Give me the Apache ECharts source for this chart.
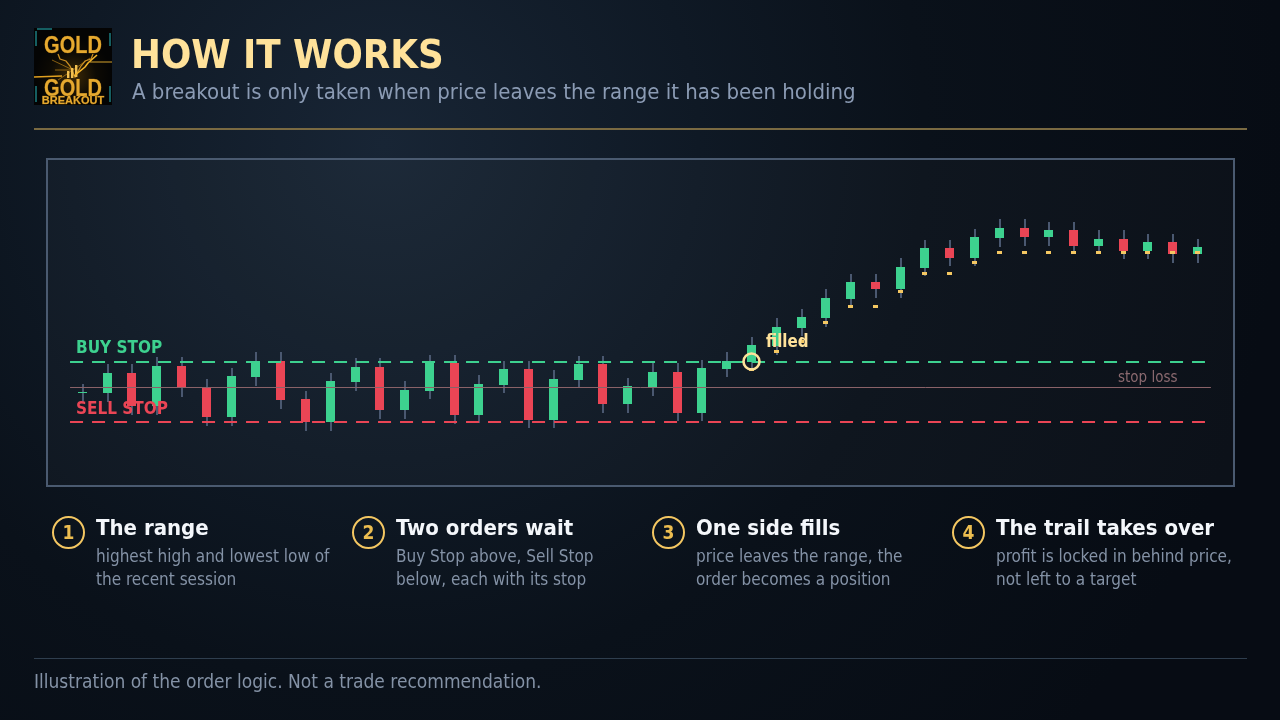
<!DOCTYPE html>
<html><head><meta charset="utf-8">
<style>html,body{margin:0;padding:0;background:#070d15}#c{width:1280px;height:720px}</style>
<script src="https://cdn.jsdelivr.net/npm/echarts@6/dist/echarts.min.js"></script>
</head><body><div id="c"></div>
<script>
// Session index is the x value; price is in chart units (higher = up)
const open  = [94,93,113,80,120,99,69,109,125,87,64,104,119,76,95,123,71,101,117,66,106,122,82,99,114,73,117,124,140,158,168,187,204,197,218,238,228,248,258,249,256,240,247,235,244,232];
const close = [94,113,80,120,99,69,110,125,86,64,105,119,76,96,124,71,102,117,66,107,122,82,100,114,73,118,125,141,159,169,188,204,197,219,238,228,249,258,249,256,240,247,235,244,232,239];
const low   = [84,84,71,71,89,60,60,100,77,55,55,95,67,67,87,62,63,93,58,58,98,73,73,90,65,65,109,116,131,150,159,178,188,188,210,220,220,239,240,240,233,234,227,227,223,223];
const high  = [102,122,122,129,129,107,118,134,134,95,113,128,128,105,131,131,111,125,125,116,130,130,108,123,123,126,134,149,168,177,197,212,212,228,246,246,257,267,267,264,264,256,256,252,252,247];
// Trailing stop level per session (null before the position exists)
const trail = [null,null,null,null,null,null,null,null,null,null,null,null,null,null,null,null,null,null,null,null,null,null,null,null,null,null,null,
  116.5,134.5,144.5,163.5,179.5,179.5,194.5,212.5,212.5,223.5,233.5,233.5,233.5,233.5,233.5,233.5,233.5,233.5,233.5];
const buyStop = 124, sellStop = 64, stopLoss = 98.5;
const rangeStart = -0.52, buyEnd = 45.28, lossEnd = 45.52;
const steps = [
  ['1','The range','highest high and lowest low of','the recent session'],
  ['2','Two orders wait','Buy Stop above, Sell Stop','below, each with its stop'],
  ['3','One side fills','price leaves the range, the','order becomes a position'],
  ['4','The trail takes over','profit is locked in behind price,','not left to a target']
];
const GREEN='#3dd18f', RED='#ea4555', WICK='#4a5870', GOLD='#f4c762', CREAM='#ffe29a', MUTED='#8492a6';
const FF='"DejaVu Sans Condensed","DejaVu Sans"';
const txt=(x,y,t,size,color,weight,align,z)=>({type:'text',x,y,z:z||20,silent:true,style:{text:t,fill:color,font:(weight||'normal')+' '+size+'px '+FF,textAlign:align||'left',textVerticalAlign:'middle'}});
const g=[];
// panel
g.push({type:'rect',z:1,shape:{x:47,y:159,width:1187,height:327},style:{fill:'rgba(255,255,255,0.025)',stroke:'#4a5a70',lineWidth:2}});
// header
g.push(txt(131,58,'HOW IT WORKS',39.7,CREAM,'bold'));
g.push(txt(132,93.5,'A breakout is only taken when price leaves the range it has been holding',22,'#8b9bb4'));
g.push({type:'rect',z:2,shape:{x:34,y:128,width:1213,height:2},style:{fill:'#7a6a42'}});
// logo
const logoText=(y,t,size,sy)=>({type:'text',x:73,y,z:6,scaleY:sy,silent:true,style:{text:t,fill:'#e6a92f',stroke:'#7a5410',lineWidth:0.5,font:'bold '+size+'px "Liberation Sans"',textAlign:'center',textVerticalAlign:'middle'}});
g.push({type:'rect',z:2,shape:{x:34,y:28,width:78,height:77},style:{fill:{type:'radial',x:0.5,y:0.62,r:0.5,colorStops:[{offset:0,color:'#3d2a06'},{offset:0.6,color:'#0d0a04'},{offset:1,color:'#040404'}]}}});
[[37,29,52,29],[36,31,36,46],[110,33,110,46],[36,86,36,102],[110,86,110,102]].forEach(a=>g.push({type:'line',z:3,shape:{x1:a[0],y1:a[1],x2:a[2],y2:a[3]},style:{stroke:'#1b7c80',lineWidth:1.5}}));
g.push({type:'line',z:3,shape:{x1:34,y1:77,x2:62,y2:76},style:{stroke:'#e0a020',lineWidth:1.5}});
g.push({type:'line',z:3,shape:{x1:90,y1:62,x2:112,y2:62},style:{stroke:'#b58a28',lineWidth:1.2}});
[[73,70,52,60],[73,70,58,80],[73,70,90,58],[73,70,55,70]].forEach(a=>g.push({type:'line',z:3,shape:{x1:a[0],y1:a[1],x2:a[2],y2:a[3]},style:{stroke:'rgba(230,160,30,0.55)',lineWidth:1}}));
g.push({type:'polyline',z:4,shape:{points:[[58,54],[60,59],[66,61],[70,66],[75,77],[81,66],[85,61],[91,59],[93,54]]},style:{stroke:'#c78c22',lineWidth:1.3,fill:null}});
[[67,71,7],[71,68,10],[75,65,12]].forEach(a=>g.push({type:'rect',z:5,shape:{x:a[0],y:a[1],width:2.4,height:a[2]},style:{fill:'#f2c050'}}));
g.push({type:'polyline',z:5,shape:{points:[[74,76],[85,67],[88,63],[97,55]]},style:{stroke:'#f4b428',lineWidth:1.6,fill:null}});
g.push(logoText(46,'GOLD',20,1.18));
g.push(logoText(89,'GOLD',20,1.18));
g.push(logoText(100.5,'BREAKOUT',11,1));
// chart labels
g.push(txt(76,349,'BUY STOP',17,GREEN,'bold','left',30));
g.push(txt(76,410,'SELL STOP',17,RED,'bold','left',30));
g.push(txt(766,343,'filled',16.8,CREAM,'bold','left',30));
g.push(txt(1118,378.5,'stop loss',15,'#8b6a70','normal','left',30));
g.push({type:'circle',z:30,shape:{cx:751.5,cy:361.5,r:8},style:{fill:null,stroke:CREAM,lineWidth:2.6}});
// steps
steps.forEach((s,i)=>{
  const dx=300*i;
  g.push({type:'circle',z:5,shape:{cx:68.5+dx,cy:532.5,r:15.5},style:{fill:null,stroke:GOLD,lineWidth:2}});
  g.push(txt(68.5+dx,534,s[0],19,'#ecbd50','bold','center'));
  g.push(txt(96+dx,529,s[1],22,'#f4f7fb','bold'));
  g.push(txt(96+dx,558,s[2],17,MUTED));
  g.push(txt(96+dx,581,s[3],17,MUTED));
});
// footer
g.push({type:'rect',z:2,shape:{x:34,y:658,width:1213,height:1},style:{fill:'#2f3e4e'}});
g.push(txt(34,683.5,'Illustration of the order logic. Not a trade recommendation.',19,MUTED));

const sessions=open.map((o,i)=>[i,o,close[i],low[i],high[i]]);
const flat=(v,end)=>[[rangeStart,v],[end,v]];
const chart=echarts.init(document.getElementById('c'),null,{renderer:'canvas'});
chart.setOption({
  animation:false,
  backgroundColor:{type:'radial',x:0.3,y:0.2,r:1.25,colorStops:[{offset:0,color:'#182535'},{offset:0.35,color:'#0f1925'},{offset:0.6,color:'#0a111a'},{offset:1,color:'#070c14'}]},
  grid:{left:70.53,top:160,width:1142.36,height:326,containLabel:false},
  xAxis:{type:'value',min:-0.5,max:45.6,show:false},
  yAxis:{type:'value',min:0,max:326,show:false},
  graphic:g,
  series:[
    {type:'custom',name:'Candles',z:3,clip:false,encode:{x:0,y:[1,2,3,4]},data:sessions,
     renderItem:(p,api)=>{
       const i=api.value(0),o=api.value(1),c=api.value(2),l=api.value(3),h=api.value(4);
       const px=api.coord([i,o])[0];
       const left=Math.floor(px-4.5);
       const yo=Math.round(api.coord([i,o])[1]),yc=Math.round(api.coord([i,c])[1]);
       const yh=Math.round(api.coord([i,h])[1]),yl=Math.round(api.coord([i,l])[1]);
       const top=Math.min(yo,yc),bh=Math.max(Math.abs(yo-yc),1);
       const col=c>=o?GREEN:RED;
       return {type:'group',children:[
         {type:'rect',shape:{x:left+4,y:yh,width:2,height:yl-yh},style:{fill:WICK}},
         {type:'rect',shape:{x:left,y:top,width:9,height:bh},style:{fill:col}}
       ]};
     }},
    {type:'line',name:'Buy stop',z:5,data:flat(buyStop,buyEnd),symbol:'none',silent:true,clip:false,lineStyle:{color:GREEN,width:2,type:[13,9]}},
    {type:'line',name:'Sell stop',z:5,data:flat(sellStop,buyEnd),symbol:'none',silent:true,clip:false,lineStyle:{color:RED,width:2,type:[13,9]}},
    {type:'line',name:'Stop loss',z:4,data:flat(stopLoss,lossEnd),symbol:'none',silent:true,clip:false,lineStyle:{color:'#8a6268',width:1}},
    {type:'custom',name:'Trailing stop',z:6,clip:false,encode:{x:0,y:1},data:trail.map((v,i)=>[i,v]).filter(d=>d[1]!==null),
     renderItem:(p,api)=>{
       const pt=api.coord([api.value(0),api.value(1)]);
       return {type:'rect',shape:{x:Math.floor(pt[0]-4.5)+2,y:Math.round(pt[1]-1.5),width:5,height:3},style:{fill:GOLD}};
     }}
  ]
});
</script></body></html>
